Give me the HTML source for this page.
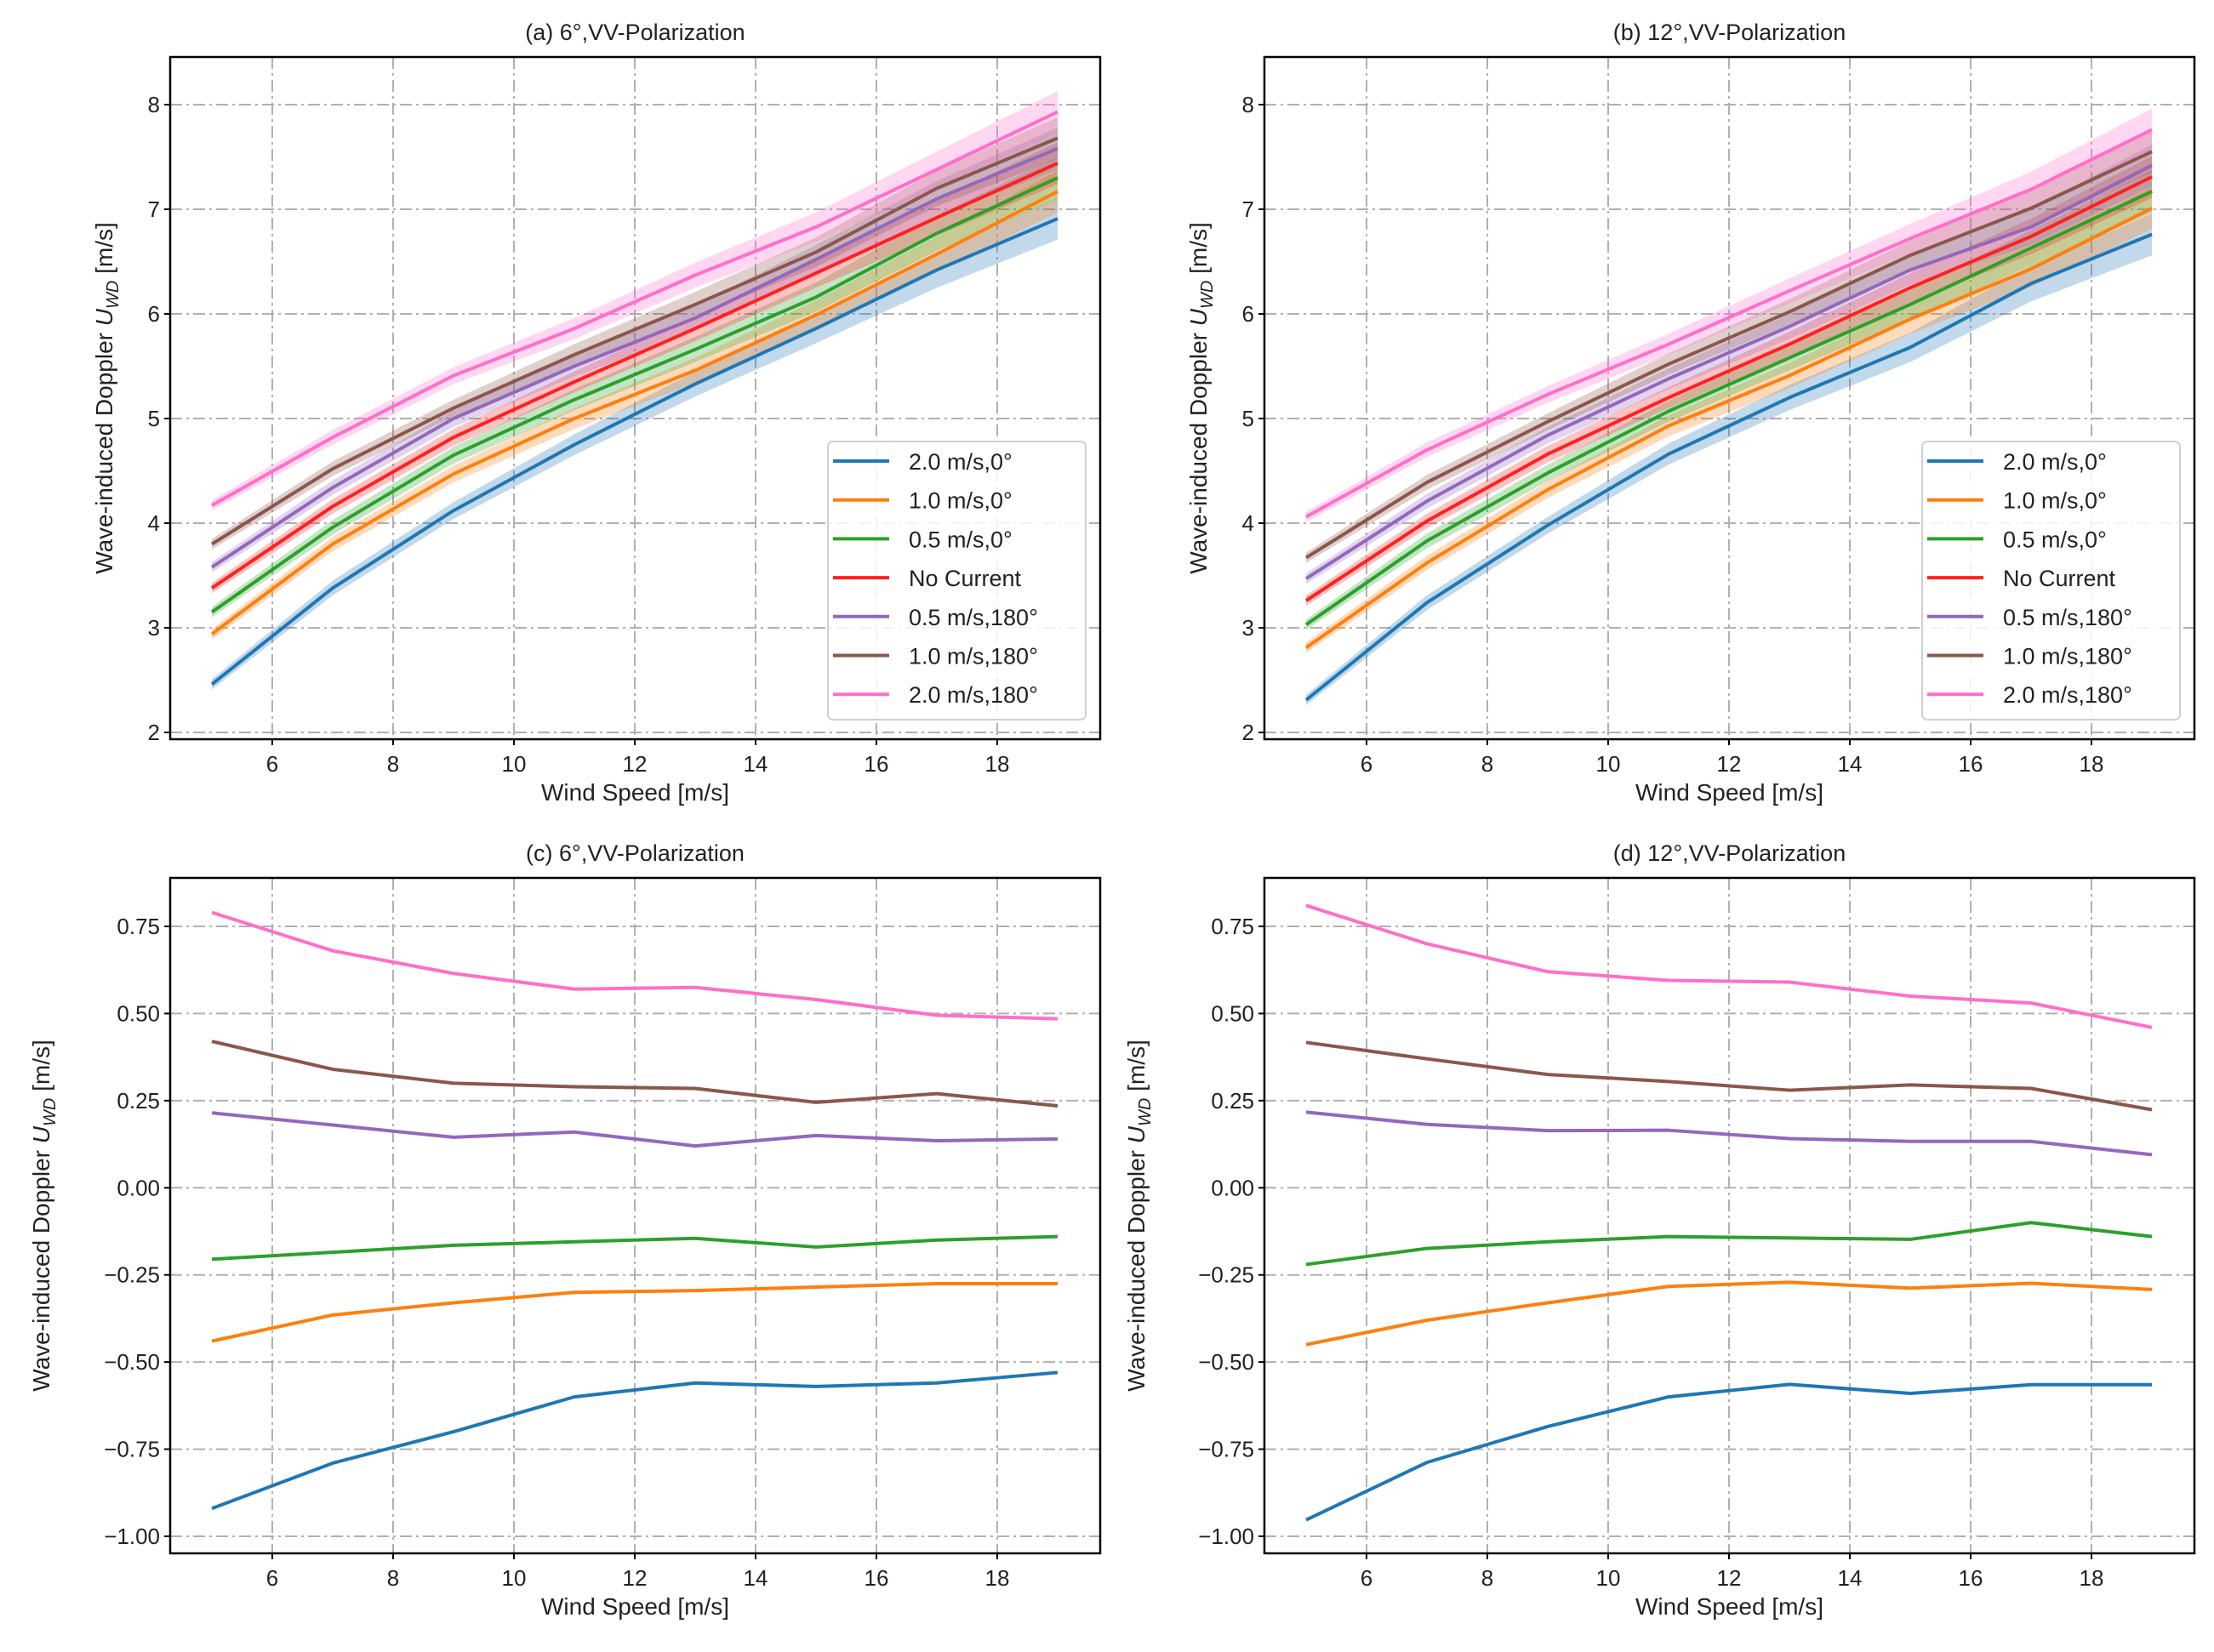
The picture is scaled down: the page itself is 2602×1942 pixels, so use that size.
<!DOCTYPE html>
<html><head><meta charset="utf-8"><style>
body{margin:0;background:#fff}
svg{display:block;font-family:"Liberation Sans","DejaVu Sans",sans-serif}
</style></head><body>
<svg id="fig" width="2602" height="1942" viewBox="0 0 2602 1942" xmlns="http://www.w3.org/2000/svg"></svg>
<script>
const xs=[5,7,9,11,13,15,17,19];
const seriesNames=["2.0 m/s,0°","1.0 m/s,0°","0.5 m/s,0°","No Current","0.5 m/s,180°","1.0 m/s,180°","2.0 m/s,180°"];
const colors=["#1f77b4","#ff7f0e","#2ca02c","#ff2020","#9467bd","#8c564b","#ff6fc8"];
const aBlue=[2.46,3.38,4.12,4.75,5.33,5.86,6.42,6.91];
const aOrange=[2.94,3.80,4.47,5.00,5.46,5.99,6.57,7.17];
const aGreen=[3.15,3.96,4.65,5.18,5.66,6.16,6.77,7.30];
const aRed=[3.38,4.16,4.82,5.35,5.86,6.39,6.92,7.44];
const aPurple=[3.58,4.34,5.00,5.50,5.96,6.52,7.10,7.58];
const aBrown=[3.80,4.52,5.10,5.61,6.09,6.59,7.20,7.68];
const aPink=[4.17,4.82,5.41,5.86,6.37,6.83,7.38,7.93];
const bBlue=[2.31,3.24,3.98,4.66,5.20,5.68,6.29,6.76];
const bOrange=[2.81,3.62,4.32,4.93,5.41,5.95,6.43,7.01];
const bGreen=[3.03,3.83,4.48,5.07,5.58,6.09,6.63,7.17];
const bRed=[3.26,4.02,4.66,5.20,5.71,6.25,6.74,7.31];
const bPurple=[3.47,4.21,4.84,5.38,5.88,6.42,6.83,7.42];
const bBrown=[3.67,4.39,4.97,5.52,6.02,6.56,7.01,7.55];
const bPink=[4.06,4.70,5.23,5.71,6.22,6.72,7.19,7.76];
const bandHalf=[0.05,0.07,0.08,0.1,0.12,0.14,0.17,0.2];
const cPink=[0.79,0.68,0.615,0.57,0.575,0.54,0.495,0.485];
const cBrown=[0.42,0.34,0.30,0.29,0.285,0.245,0.27,0.235];
const cPurple=[0.215,0.18,0.145,0.16,0.12,0.15,0.135,0.14];
const cGreen=[-0.205,-0.185,-0.165,-0.155,-0.145,-0.17,-0.15,-0.14];
const cOrange=[-0.44,-0.365,-0.33,-0.30,-0.295,-0.285,-0.275,-0.275];
const cBlue=[-0.92,-0.79,-0.70,-0.60,-0.56,-0.57,-0.56,-0.53];
const dPink=[0.81,0.70,0.62,0.595,0.59,0.55,0.53,0.46];
const dBrown=[0.417,0.37,0.325,0.305,0.28,0.295,0.285,0.224];
const dPurple=[0.217,0.182,0.164,0.165,0.141,0.133,0.133,0.095];
const dGreen=[-0.22,-0.174,-0.155,-0.14,-0.144,-0.148,-0.10,-0.14];
const dOrange=[-0.45,-0.38,-0.33,-0.283,-0.271,-0.288,-0.274,-0.292];
const dBlue=[-0.953,-0.788,-0.685,-0.60,-0.564,-0.59,-0.565,-0.565];
const xTicks=[6,8,10,12,14,16,18];
const yTicksTop=[2,3,4,5,6,7,8];
const yTicksBot=[-1.0,-0.75,-0.5,-0.25,0,0.25,0.5,0.75];

const NS="http://www.w3.org/2000/svg";
const svg=document.getElementById('fig');
function mk(tag,attrs,parent,text){const e=document.createElementNS(NS,tag);for(const k in attrs)e.setAttribute(k,attrs[k]);if(text!==undefined)e.textContent=text;(parent||svg).appendChild(e);return e;}

function panel(cfg){
  const g=mk('g',{});
  
  
  const X=v=>cfg.x6+(v-6)*(cfg.x18-cfg.x6)/12;
  const Y=v=>cfg.yA+(v-cfg.vA)*(cfg.yB-cfg.yA)/(cfg.vB-cfg.vA);
  // grid
  xTicks.forEach(t=>{const l=mk('line',{x1:X(t),x2:X(t),y1:cfg.top,y2:cfg.bot,stroke:'#b0b0b0','stroke-width':2,'stroke-dasharray':'14 5 3 5'},g);});
  cfg.yTicks.forEach(t=>{const l=mk('line',{x1:cfg.left,x2:cfg.right,y1:Y(t),y2:Y(t),stroke:'#b0b0b0','stroke-width':2,'stroke-dasharray':'14 5 3 5'},g);});
  // bands
  if(cfg.band){cfg.data.forEach((d,i)=>{if(!d)return;
    let p=xs.map((x,j)=>X(x)+','+Y(d[j]+bandHalf[j])).join(' ')+' '+xs.slice().reverse().map((x,j)=>{const k=xs.length-1-j;return X(x)+','+Y(d[k]-bandHalf[k]);}).join(' ');
    const b=mk('polygon',{points:p,fill:colors[i],'fill-opacity':0.28,stroke:'none'},g);
    
    
  });}
  cfg.data.forEach((d,i)=>{if(!d)return;
    const l=mk('polyline',{points:xs.map((x,j)=>X(x)+','+Y(d[j])).join(' '),fill:'none',stroke:colors[i],'stroke-width':4,'stroke-linejoin':'round'},g);
    
    
  });
  const fr=mk('rect',{x:cfg.left,y:cfg.top,width:cfg.right-cfg.left,height:cfg.bot-cfg.top,fill:'none',stroke:'#000','stroke-width':2.5},g);
  
  xTicks.forEach(t=>{mk('line',{x1:X(t),x2:X(t),y1:cfg.bot,y2:cfg.bot+7,stroke:'#000','stroke-width':2},g);
    const tx=mk('text',{x:X(t),y:cfg.bot+38,'font-size':26,'text-anchor':'middle',fill:'#222'},g,String(t));
    });
  cfg.yTicks.forEach(t=>{mk('line',{x1:cfg.left-7,x2:cfg.left,y1:Y(t),y2:Y(t),stroke:'#000','stroke-width':2},g);
    const s=cfg.fmt?t.toFixed(2).replace('-','\u2212'):String(t);
    const tx=mk('text',{x:cfg.left-12,y:Y(t)+9,'font-size':26,'text-anchor':'end',fill:'#222'},g,s);
    });
  const ti=mk('text',{x:(cfg.left+cfg.right)/2,y:cfg.top-20,'font-size':27,'text-anchor':'middle',fill:'#222'},g,cfg.title);
  
  const xl=mk('text',{x:(cfg.left+cfg.right)/2,y:cfg.bot+72,'font-size':28,'text-anchor':'middle',fill:'#222'},g,'Wind Speed [m/s]');
  
  const cy=(cfg.top+cfg.bot)/2;
  const yl=mk('text',{x:cfg.ylx,y:cy,'font-size':28,'text-anchor':'middle',fill:'#222',transform:`rotate(-90 ${cfg.ylx} ${cy})`},g);
  
  mk('tspan',{},yl,'Wave-induced Doppler ');mk('tspan',{'font-style':'italic'},yl,'U');mk('tspan',{'font-size':20,'font-style':'italic',dy:7},yl,'WD');mk('tspan',{dy:-7},yl,' [m/s]');
  if(cfg.legend){const lx=cfg.legend[0],ly=cfg.legend[1];
    const lg=mk('g',{},g);
    mk('rect',{x:lx,y:ly,width:303,height:327,rx:6,fill:'#fff','fill-opacity':0.85,stroke:'#d0d0d0','stroke-width':2},lg);
    seriesNames.forEach((n,i)=>{const yy=ly+23+i*45.7;
      const e=mk('g',{},lg);
      mk('line',{x1:lx+6,x2:lx+72,y1:yy,y2:yy,stroke:colors[i],'stroke-width':4},e);
      mk('text',{x:lx+95,y:yy+10,'font-size':27,fill:'#222'},e,n);});
  }
}
const top1={top:67,bot:869,yTicks:yTicksTop,yA:861,vA:2,yB:123,vB:8,band:true};
const bot1={top:1032,bot:1826,yTicks:yTicksBot,yA:1806,vA:-1,yB:1089,vB:0.75,fmt:true};
panel(Object.assign({name:'panel-a',title:'(a) 6°,VV-Polarization',left:200,right:1293,x6:320,x18:1172,ylx:132,legend:[973,519],data:[aBlue,aOrange,aGreen,aRed,aPurple,aBrown,aPink]},top1));
panel(Object.assign({name:'panel-b',title:'(b) 12°,VV-Polarization',left:1486,right:2579,x6:1606,x18:2458,ylx:1418,legend:[2259,519],data:[bBlue,bOrange,bGreen,bRed,bPurple,bBrown,bPink]},top1));
panel(Object.assign({name:'panel-c',title:'(c) 6°,VV-Polarization',left:200,right:1293,x6:320,x18:1172,ylx:58,data:[cBlue,cOrange,cGreen,null,cPurple,cBrown,cPink]},bot1));
panel(Object.assign({name:'panel-d',title:'(d) 12°,VV-Polarization',left:1486,right:2579,x6:1606,x18:2458,ylx:1345,data:[dBlue,dOrange,dGreen,null,dPurple,dBrown,dPink]},bot1));
</script>
</body></html>
